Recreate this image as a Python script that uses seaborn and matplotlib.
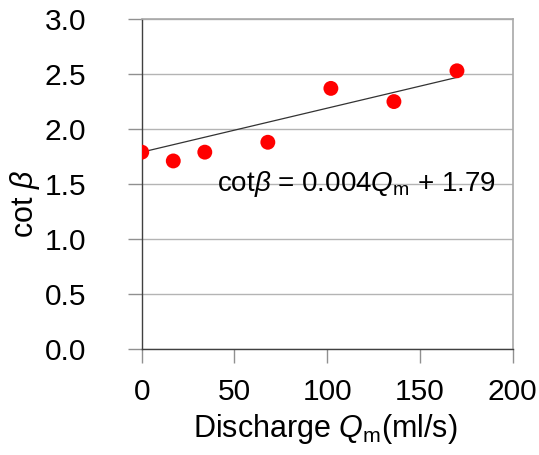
import matplotlib
matplotlib.use("Agg")
import matplotlib.pyplot as plt
import seaborn as sns
import pandas as pd

# Data
discharge = [0, 17, 34, 68, 102, 136, 170]
cot_beta = [1.79, 1.71, 1.79, 1.88, 2.37, 2.25, 2.53]
trend_x = [0, 170]
trend_y = [1.79, 2.47]
x_ticks = [0, 50, 100, 150, 200]
y_ticks = [0.0, 0.5, 1.0, 1.5, 2.0, 2.5, 3.0]

sns.set_style("white")
plt.rcParams['font.family'] = ['Liberation Sans', 'Noto Sans CJK JP', 'DejaVu Sans']
plt.rcParams['mathtext.fontset'] = 'custom'
plt.rcParams['mathtext.rm'] = 'Liberation Sans'
plt.rcParams['mathtext.it'] = 'Liberation Sans:italic'
plt.rcParams['text.color'] = 'black'
plt.rcParams['xtick.labelcolor'] = 'black'
plt.rcParams['ytick.labelcolor'] = 'black'
plt.rcParams['axes.labelcolor'] = 'black'

df = pd.DataFrame({"Q": discharge, "cot": cot_beta})
tr = pd.DataFrame({"x": trend_x, "y": trend_y})

fig = plt.figure(figsize=(5.39, 4.55), dpi=100)
ax = fig.add_axes([0.263, 0.233, 0.688, 0.725])

for yv in y_ticks:
    ax.axhline(yv, color="#b4b4b4", lw=1.0, zorder=0)

sns.lineplot(data=tr, x="x", y="y", ax=ax, color="#333333", lw=0.9, zorder=2)
sns.scatterplot(data=df, x="Q", y="cot", ax=ax, color="#ff0000", s=115,
                edgecolor="none", zorder=3)

ax.set_xlim(0, 200)
ax.set_ylim(0, 3.0)
ax.set_xticks(x_ticks)
ax.set_yticks(y_ticks)
ax.set_xticklabels([str(v) for v in x_ticks])
ax.set_yticklabels([f"{v:.1f}" for v in y_ticks])
ax.tick_params(axis="x", direction="out", length=10, width=1, color="#909090",
               labelsize=21.5, pad=11, bottom=True, labelcolor="black")
ax.tick_params(axis="y", direction="out", length=10, width=1, color="#909090",
               labelsize=21.5, pad=30, left=True, labelcolor="black")

for s in ["top", "right"]:
    ax.spines[s].set_color("#a8a8a8")
    ax.spines[s].set_linewidth(1.2)
for s in ["left", "bottom"]:
    ax.spines[s].set_color("#404040")
    ax.spines[s].set_linewidth(1.0)

ax.set_xlabel("Discharge $\\it{Q}_{\\rm m}$$\\rm{(ml/s)}$", fontsize=22, color="black")
ax.set_ylabel("cot $\\it{\\beta}$", fontsize=22, color="black")
ax.xaxis.set_label_coords(0.494, -0.19)
ax.yaxis.set_label_coords(-0.27, 0.44)

ax.text(40.5, 1.5, "cot$\\it{\\beta}$ = 0.004$\\it{Q}_{\\rm m}$ + 1.79",
        fontsize=20, va="center", ha="left", zorder=4, color="black")

fig.savefig("out.png", dpi=100)
